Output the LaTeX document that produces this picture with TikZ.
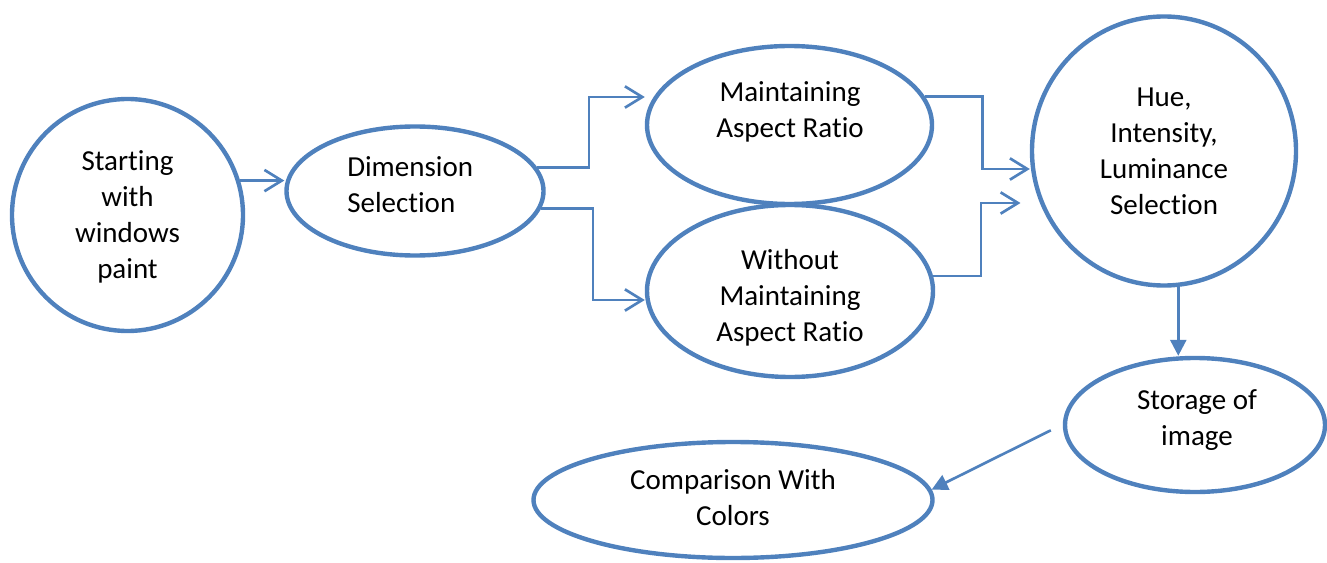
\documentclass[tikz,border=0pt]{standalone}
\usepackage{fontspec}
\setmainfont{Carlito}[Ligatures=NoCommon]
\usetikzlibrary{shapes.geometric,arrows.meta}
\definecolor{obl}{HTML}{4F81BD}
\begin{document}
\begin{tikzpicture}[x=0.75pt,y=-0.75pt,
  ell/.style n args={2}{ellipse,draw=obl,line width=3.3pt,inner sep=0pt,
     minimum width=#1*0.75pt,minimum height=#2*0.75pt},
  txt/.style={inner sep=0pt,align=center,font=\fontsize{21.75pt}{27pt}\selectfont},
  conn/.style={draw=obl,line width=2pt,-{Straight Barb[length=13pt,width=16pt]}},
  fconn/.style={draw=obl,line width=2pt,-{Triangle[length=12pt,width=12pt]}}]
\useasboundingbox (0,0) rectangle (1327,563);
% shapes
\node[ell={231}{232}] (n1) at (127.5,215) {};
\node[ell={257}{129}] (n2) at (415,191) {};
\node[ell={285}{158}] (n3) at (789.5,125) {};
\node[ell={286}{172}] (n4) at (790,291) {};
\node[ell={264}{269}] (n5) at (1164,151) {};
\node[ell={260}{134}] (n6) at (1195,425) {};
\node[ell={399}{116}] (n7) at (733,500) {};
% texts
\node[txt] (t1) at (127.5,217) {Starting\\with\\windows\\paint};
\node[txt,align=left,anchor=west] (t2) at (347,185) {Dimension\\Selection};
\node[txt] (t3) at (790,112) {Maintaining\\Aspect Ratio};
\node[txt] (t4) at (790,298) {Without\\Maintaining\\Aspect Ratio};
\node[txt] (t5) at (1164,151) {Hue,\\Intensity,\\Luminance\\Selection};
\node[txt] (t6) at (1197,420) {Storage of\\image};
\node[txt] (t7) at (733,498) {Comparison With\\Colors};
% connectors
\draw[conn] (n1.17) -- (n1.17 -| n2.west);
\draw[conn] (n2.11) -- ++(52,0) |- (n3.west |- 0,97);
\draw[conn] (n2.-8) -- ++(52,0) |- (n4.west |- 0,300);
\draw[conn] (n3.12) -- ++(58,0) |- (n5.west |- 0,169);
\draw[conn] (n4.6.5) -- ++(48,0) |- ([xshift=-7pt]n5.west |- 0,203);
\draw[fconn] (n5.-84) -- (n6.north -| n5.-84);
\draw[fconn] ([xshift=-9pt,yshift=-4pt]n6.west) -- (n7.3);
\end{tikzpicture}
\end{document}
